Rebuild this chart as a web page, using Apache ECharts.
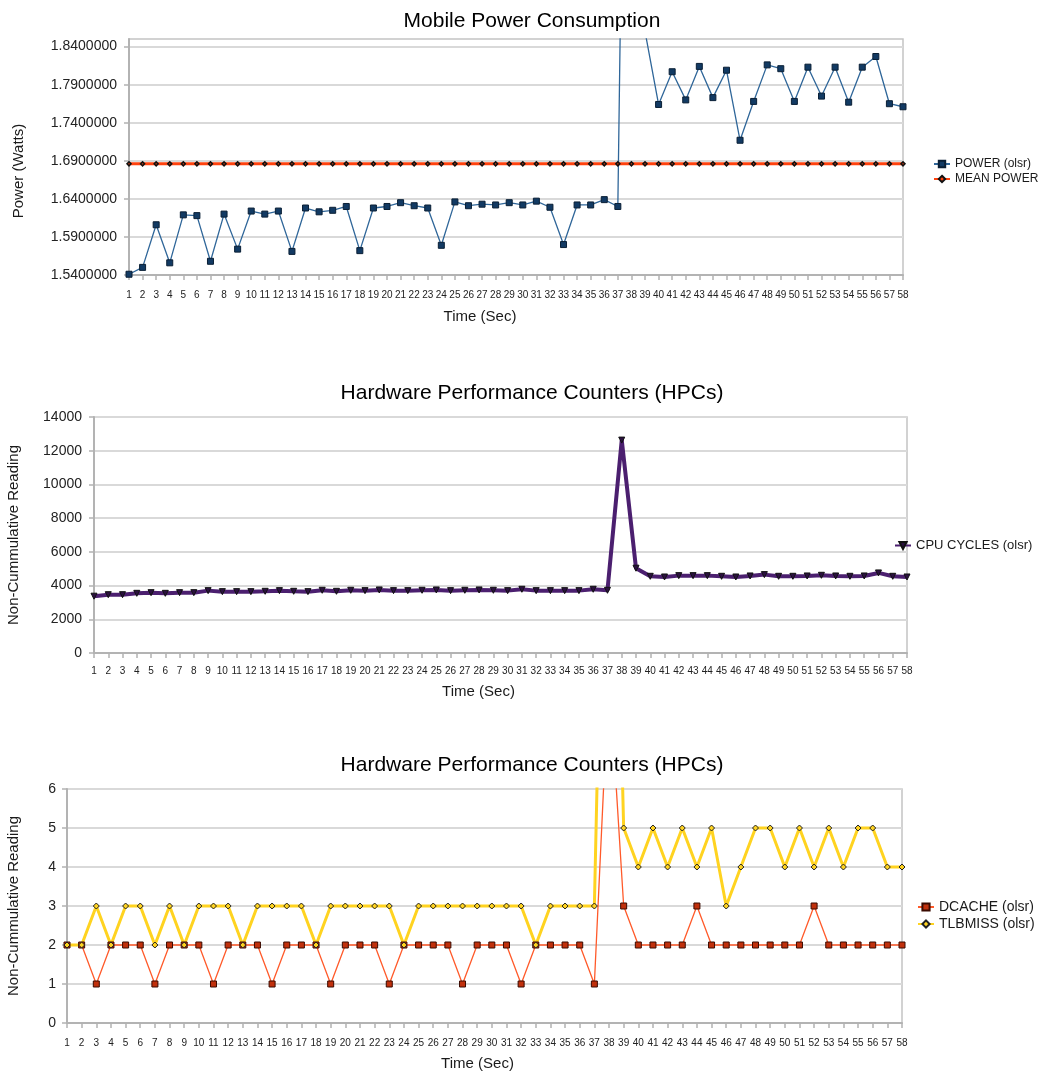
<!DOCTYPE html>
<html>
<head>
<meta charset="utf-8">
<script src="https://cdn.jsdelivr.net/npm/echarts@6/dist/echarts.min.js"></script>
<style>
  html, body { margin: 0; padding: 0; background: #ffffff; }
  #chart { width: 1045px; height: 1072px; }
</style>
</head>
<body>
<div id="chart"></div>
<script>
// Sample index, one reading per second
const seconds = ['1','2','3','4','5','6','7','8','9','10','11','12','13','14','15','16','17','18','19','20',
  '21','22','23','24','25','26','27','28','29','30','31','32','33','34','35','36','37','38','39','40',
  '41','42','43','44','45','46','47','48','49','50','51','52','53','54','55','56','57','58'];

// Power draw (W) measured while running olsr
const power = [1.541, 1.550, 1.606, 1.556, 1.619, 1.618, 1.558, 1.620, 1.574, 1.624,
  1.620, 1.624, 1.571, 1.628, 1.623, 1.625, 1.630, 1.572, 1.628, 1.630,
  1.635, 1.631, 1.628, 1.579, 1.636, 1.631, 1.633, 1.632, 1.635, 1.632,
  1.637, 1.629, 1.580, 1.632, 1.632, 1.639, 1.630, 2.950, 1.860, 1.764,
  1.807, 1.770, 1.814, 1.773, 1.809, 1.717, 1.768, 1.816, 1.811, 1.768,
  1.813, 1.775, 1.813, 1.767, 1.813, 1.827, 1.765, 1.761];

// Mean power over the run, repeated for every second
const meanPower = [1.686, 1.686, 1.686, 1.686, 1.686, 1.686, 1.686, 1.686, 1.686, 1.686,
  1.686, 1.686, 1.686, 1.686, 1.686, 1.686, 1.686, 1.686, 1.686, 1.686,
  1.686, 1.686, 1.686, 1.686, 1.686, 1.686, 1.686, 1.686, 1.686, 1.686,
  1.686, 1.686, 1.686, 1.686, 1.686, 1.686, 1.686, 1.686, 1.686, 1.686,
  1.686, 1.686, 1.686, 1.686, 1.686, 1.686, 1.686, 1.686, 1.686, 1.686,
  1.686, 1.686, 1.686, 1.686, 1.686, 1.686, 1.686, 1.686];

// CPU cycle counter, non-cumulative per second
const cpuCycles = [3370, 3460, 3460, 3540, 3580, 3540, 3580, 3580, 3700, 3640,
  3640, 3640, 3660, 3700, 3660, 3640, 3720, 3660, 3720, 3700,
  3740, 3700, 3700, 3720, 3740, 3700, 3720, 3740, 3720, 3700,
  3780, 3700, 3700, 3700, 3700, 3780, 3720, 12630, 5030, 4550,
  4510, 4590, 4590, 4590, 4550, 4510, 4570, 4650, 4550, 4550,
  4570, 4610, 4570, 4550, 4570, 4750, 4550, 4510];

// Data-cache and TLB miss counters
const dcache = [2, 2, 1, 2, 2, 2, 1, 2, 2, 2,
  1, 2, 2, 2, 1, 2, 2, 2, 1, 2,
  2, 2, 1, 2, 2, 2, 2, 1, 2, 2,
  2, 1, 2, 2, 2, 2, 1, 9, 3, 2,
  2, 2, 2, 3, 2, 2, 2, 2, 2, 2,
  2, 3, 2, 2, 2, 2, 2, 2];
const tlbMiss = [2, 2, 3, 2, 3, 3, 2, 3, 2, 3,
  3, 3, 2, 3, 3, 3, 3, 2, 3, 3,
  3, 3, 3, 2, 3, 3, 3, 3, 3, 3,
  3, 3, 2, 3, 3, 3, 3, 20, 5, 4,
  5, 4, 5, 4, 5, 3, 4, 5, 5, 4,
  5, 4, 5, 4, 5, 5, 4, 4];

// Power axis tick values
const powerTicks = [1.54, 1.59, 1.64, 1.69, 1.74, 1.79, 1.84];

const AXIS_GRAY = '#b3b3b3';
const GRID_GRAY = '#d9d9d9';
const TEXT = '#1a1a1a';

function timeAxis(gridIndex, nameGap, shiftLeft, labelMargin) {
  return {
    type: 'category', gridIndex: gridIndex, data: seconds, boundaryGap: false,
    name: 'Time (Sec)', nameLocation: 'middle', nameGap: nameGap, nameMoveOverlap: false,
    nameTextStyle: { fontSize: 15, color: TEXT, padding: [0, shiftLeft * 2, 0, 0] },
    axisLine: { show: true, lineStyle: { color: AXIS_GRAY, width: 2 } },
    axisTick: { show: true, interval: 0, length: 5, lineStyle: { color: AXIS_GRAY, width: 1.5 } },
    axisLabel: { interval: 0, fontSize: 10, color: '#222', margin: labelMargin, hideOverlap: false },
    splitLine: { show: false }
  };
}

function valueAxisStyle(extra) {
  return Object.assign({
    type: 'value',
    nameLocation: 'middle', nameMoveOverlap: false,
    axisLine: { show: true, lineStyle: { color: AXIS_GRAY, width: 2 } },
    axisTick: { show: true, length: 5, lineStyle: { color: AXIS_GRAY, width: 1.5 } },
    splitLine: { show: true, lineStyle: { color: GRID_GRAY, width: 2 } }
  }, extra);
}

const plainNumber = function (v) { return String(v); };

const gridBase = { show: true, borderColor: '#c4c4c4', borderWidth: 1.5, outerBoundsMode: 'none', containLabel: false };

const option = {
  animation: false,
  backgroundColor: '#ffffff',
  textStyle: { fontFamily: '"Liberation Sans", Arial, sans-serif' },
  title: [
    { text: 'Mobile Power Consumption', left: 527, top: 6, textAlign: 'center',
      textStyle: { fontSize: 21, fontWeight: 'normal', color: '#000' } },
    { text: 'Hardware Performance Counters (HPCs)', left: 527, top: 378, textAlign: 'center',
      textStyle: { fontSize: 21, fontWeight: 'normal', color: '#000' } },
    { text: 'Hardware Performance Counters (HPCs)', left: 527, top: 750, textAlign: 'center',
      textStyle: { fontSize: 21, fontWeight: 'normal', color: '#000' } }
  ],
  legend: [
    { data: ['POWER (olsr)', 'MEAN POWER'], left: 928, top: 153, orient: 'vertical',
      itemWidth: 16, itemHeight: 8, itemGap: 3, textStyle: { fontSize: 12, color: TEXT } },
    { data: ['CPU CYCLES (olsr)'], left: 889, top: 534, orient: 'vertical',
      itemWidth: 16, itemHeight: 9, textStyle: { fontSize: 13, color: TEXT } },
    { data: ['DCACHE (olsr)', 'TLBMISS (olsr)'], left: 912, top: 895, orient: 'vertical',
      itemWidth: 16, itemHeight: 9, itemGap: 3, textStyle: { fontSize: 14, color: TEXT } }
  ],
  grid: [
    Object.assign({ left: 129, top: 39, width: 774, height: 236 }, gridBase),
    Object.assign({ left: 94, top: 417, width: 813, height: 236 }, gridBase),
    Object.assign({ left: 67, top: 789, width: 835, height: 234 }, gridBase)
  ],
  xAxis: [
    timeAxis(0, 34, 36, 15),
    timeAxis(1, 31, 22, 13),
    timeAxis(2, 33, 7, 15)
  ],
  yAxis: [
    valueAxisStyle({
      gridIndex: 0, min: 1.54, max: 1.85,
      name: 'Power (Watts)', nameGap: 103,
      nameTextStyle: { fontSize: 15, color: TEXT, padding: [0, 28, 0, 0] },
      axisLabel: { customValues: powerTicks, formatter: function (v) { return v.toFixed(7); },
        fontSize: 14, color: '#222', margin: 12 },
      axisTick: { show: true, customValues: powerTicks, length: 5, lineStyle: { color: AXIS_GRAY, width: 1.5 } }
    }),
    valueAxisStyle({
      gridIndex: 1, min: 0, max: 14000, interval: 2000,
      name: 'Non-Cummulative Reading', nameGap: 73,
      nameTextStyle: { fontSize: 15, color: TEXT },
      axisLabel: { fontSize: 14, color: '#222', margin: 12, formatter: plainNumber }
    }),
    valueAxisStyle({
      gridIndex: 2, min: 0, max: 6, interval: 1,
      name: 'Non-Cummulative Reading', nameGap: 46,
      nameTextStyle: { fontSize: 15, color: TEXT },
      axisLabel: { fontSize: 14, color: '#222', margin: 11, formatter: plainNumber }
    })
  ],
  series: [
    { name: 'POWER (olsr)', type: 'line', xAxisIndex: 0, yAxisIndex: 0, data: power,
      symbol: 'rect', symbolSize: 6, clip: true,
      lineStyle: { color: '#2f6699', width: 1.3 },
      itemStyle: { color: '#123a63', borderColor: '#0a1f35', borderWidth: 1 } },
    { name: 'MEAN POWER', type: 'line', xAxisIndex: 0, yAxisIndex: 0, data: meanPower,
      symbol: 'diamond', symbolSize: 4, clip: true,
      lineStyle: { color: '#ff420e', width: 3 },
      itemStyle: { color: '#ff420e', borderColor: '#111', borderWidth: 1.5 } },
    { name: 'CPU CYCLES (olsr)', type: 'line', xAxisIndex: 1, yAxisIndex: 1, data: cpuCycles,
      symbol: 'triangle', symbolRotate: 180, symbolSize: 6, clip: true,
      lineStyle: { color: '#4b1f6f', width: 4 },
      itemStyle: { color: '#2b1040', borderColor: '#111', borderWidth: 1 } },
    { name: 'DCACHE (olsr)', type: 'line', xAxisIndex: 2, yAxisIndex: 2, data: dcache,
      symbol: 'rect', symbolSize: 6, clip: true,
      lineStyle: { color: '#ff5a2a', width: 1.3 },
      itemStyle: { color: '#c0300c', borderColor: '#3a0a00', borderWidth: 1 } },
    { name: 'TLBMISS (olsr)', type: 'line', xAxisIndex: 2, yAxisIndex: 2, data: tlbMiss,
      symbol: 'diamond', symbolSize: 6, clip: true,
      lineStyle: { color: '#ffd320', width: 3 },
      itemStyle: { color: '#ffd320', borderColor: '#222', borderWidth: 1 } }
  ]
};

const chart = echarts.init(document.getElementById('chart'), null, { renderer: 'canvas' });
chart.setOption(option);
</script>
</body>
</html>
